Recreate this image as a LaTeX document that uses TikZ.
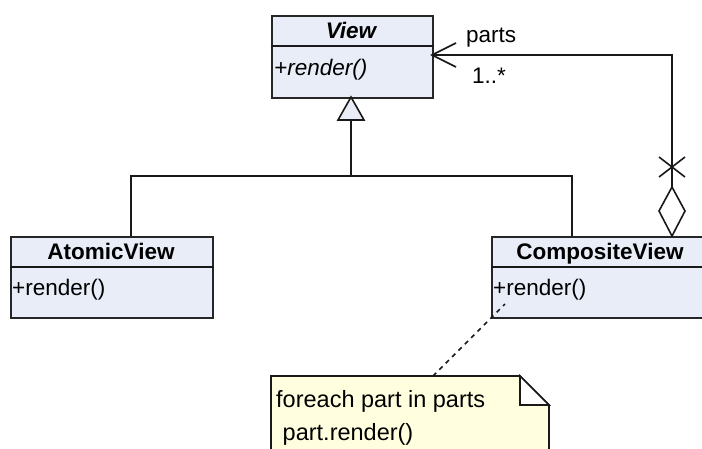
\documentclass[tikz,border=0pt]{standalone}
\usepackage{fontspec}
\setmainfont{Liberation Sans}
\begin{document}
\begin{tikzpicture}[x=1pt,y=-1pt,
  umlbox/.style={draw=black!85,line width=1.6pt,fill=boxblue,inner sep=0pt,anchor=north west},
  conn/.style={draw=black!90,line width=1.6pt},
  txt/.style={font=\fontsize{22.5}{26}\selectfont,inner sep=0pt},
  notetxt/.style={font=\fontsize{23.5}{27}\selectfont,inner sep=0pt,anchor=base west},
  bold/.style={font=\fontsize{22.5}{26}\selectfont\bfseries,inner sep=0pt,anchor=base},
]
\definecolor{boxblue}{HTML}{E8EDF8}
\definecolor{noteyellow}{HTML}{FFFFE0}
\useasboundingbox (0,0) rectangle (702,448);
\clip (0,0) rectangle (702,448);

% View
\node[umlbox,minimum width=161pt,minimum height=82pt] (view) at (271,15) {};
\draw[conn] ([yshift=-31pt]view.north west) -- ([yshift=-31pt]view.north east);
\node[bold,font=\fontsize{22.5}{26}\selectfont\bfseries\itshape] (viewt) at (351,38) {View};
\node[txt,anchor=base west,font=\fontsize{22.5}{26}\selectfont\itshape] (viewr) at (274,75) {+render()};

% AtomicView
\node[umlbox,minimum width=202pt,minimum height=81pt] (atomic) at (10,236) {};
\draw[conn] ([yshift=-31pt]atomic.north west) -- ([yshift=-31pt]atomic.north east);
\node[bold] (atomict) at (111,259) {AtomicView};
\node[txt,anchor=base west] (atomicr) at (12,295) {+render()};

% CompositeView
\node[umlbox,minimum width=218pt,minimum height=81pt] (comp) at (491,236) {};
\draw[conn] ([yshift=-31pt]comp.north west) -- ([yshift=-31pt]comp.north east);
\node[bold] (compt) at (600,259) {CompositeView};
\node[txt,anchor=base west] (compr) at (493,295) {+render()};

% Generalization
\coordinate (apex) at (351,97);
\coordinate (tribase) at (351,120);
\coordinate (junc) at (351,176);
\coordinate (ja) at (131,236);
\coordinate (jc) at (572,236);
\draw[conn,fill=boxblue,line join=miter] (apex) -- (364,120) -- (338,120) -- cycle;
\draw[conn] (tribase) -- (junc);
\draw[conn] (ja) |- (junc) -| (jc);

% Aggregation
\coordinate (vr) at (432,55);
\coordinate (dtop) at (672,187);
\coordinate (dbot) at (672,236);
\coordinate (cross) at (672,167);
\draw[conn] (dtop) |- (vr);
\draw[conn] (456,43) -- (vr) -- (456,67);
\draw[conn] ([shift={(-13pt,10pt)}]cross) -- ([shift={(13pt,-10pt)}]cross);
\draw[conn] ([shift={(-13pt,-10pt)}]cross) -- ([shift={(13pt,10pt)}]cross);
\draw[conn,fill=white] (dtop) -- (685,211) -- (dbot) -- (659,211) -- cycle;
\node[txt,anchor=base west] (partsl) at (466,42) {parts};
\node[txt,anchor=base west] (multl) at (472,83) {1..*};

% Note
\draw[conn,fill=noteyellow] (271,376) -- (520,376) -- (549,405) -- (549,470) -- (271,470) -- cycle;
\draw[conn,fill=white,line join=miter] (520,376) -- (549,405) -- (520,405) -- cycle;
\node[notetxt] (note1) at (276,407) {foreach part in parts};
\node[notetxt] (note2) at (276,440) {\ part.render()};
\coordinate (notetop) at (433,376);
\coordinate (compin) at (505,304);
\draw[conn,dash pattern=on 4.5pt off 4.5pt] (notetop) -- (compin);
\end{tikzpicture}
\end{document}
